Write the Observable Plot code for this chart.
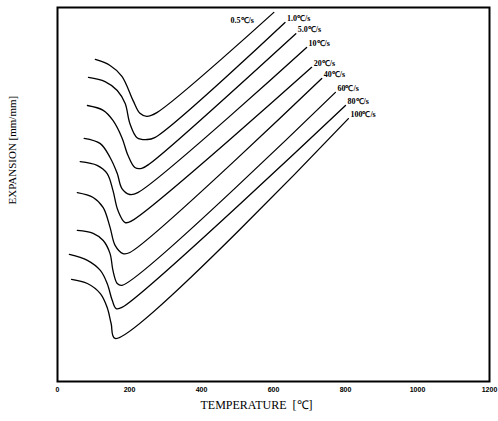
<!DOCTYPE html>
<html><head><meta charset="utf-8">
<script src="https://cdn.jsdelivr.net/npm/d3@7"></script>
<script src="https://cdn.jsdelivr.net/npm/@observablehq/plot@0.6"></script>
<style>body{margin:0;background:#fff}</style>
</head><body><div id="chart"></div>
<script>
// Heating rates (curve labels), top curve to bottom curve
const rateLabels = ["0.5℃/s","1.0℃/s","5.0℃/s","10℃/s","20℃/s","40℃/s","60℃/s","80℃/s","100℃/s"];
// Temperature [℃] and expansion (arbitrary units, offset curves)
const temp_0_5 = [105,146,179,210,229,248,276,601];
const exp_0_5  = [86.1,84.5,81.6,75.1,71.7,70.9,71.9,98.7];
const temp_1   = [86,132,166,188,201,221,248,270,632];
const exp_1    = [81.3,80.2,77.8,74.3,69.0,65.2,64.7,65.2,96.0];
const temp_5   = [83,127,154,179,196,215,234,257,662];
const exp_5    = [73.8,72.5,69.8,65.2,60.4,57.2,57.0,58.3,93.0];
const temp_10  = [74,119,146,166,179,201,223,692];
const exp_10   = [65.0,63.6,59.9,55.6,51.6,50.0,50.5,89.3];
const temp_20  = [63,110,138,154,168,188,207,706];
const exp_20   = [58.8,57.8,55.6,51.1,45.7,42.5,43.0,84.0];
const temp_40  = [55,99,127,146,160,182,201,734];
const exp_40   = [50.5,49.2,46.5,41.2,36.4,34.2,34.5,81.0];
const temp_60  = [55,99,127,146,154,166,179,772];
const exp_60   = [40.4,39.6,37.7,34.2,29.7,26.2,25.7,77.3];
const temp_80  = [33,83,119,138,152,163,179,800];
const exp_80   = [34.0,32.4,29.7,26.2,21.7,19.5,19.8,73.8];
const temp_100 = [39,83,119,138,149,160,808];
const exp_100  = [27.3,26.2,23.5,19.8,15.5,11.5,70.3];
const xTicks = [0,200,400,600,800,1000,1200];
const xTitle = "TEMPERATURE  [℃]";
const yTitle = "EXPANSION [mm/mm]";

const temps = [temp_0_5,temp_1,temp_5,temp_10,temp_20,temp_40,temp_60,temp_80,temp_100];
const exps  = [exp_0_5,exp_1,exp_5,exp_10,exp_20,exp_40,exp_60,exp_80,exp_100];
const rows = [];
const ends = [];
rateLabels.forEach((r,i)=>{
  temps[i].forEach((t,j)=>rows.push({rate:r,t,e:exps[i][j]}));
  const n = temps[i].length-1;
  ends.push({rate:r,t:temps[i][n],e:exps[i][n]});
});

const chart = Plot.plot({
  width: 498, height: 421,
  marginLeft: 57, marginRight: 9, marginTop: 7, marginBottom: 40,
  style: {fontFamily: "Liberation Serif", background: "white", color: "black"},
  x: {domain: [0,1200]},
  y: {domain: [0,100], axis: null},
  marks: [
    Plot.frame({strokeWidth: 2, stroke: "black"}),
    Plot.axisX({ticks: xTicks, tickFormat: d=>String(d), tickSize: 0, tickPadding: 6, fontSize: 7, fontWeight: "bold", fontFamily: "Liberation Sans", fill: "black", label: null}),
    Plot.line(rows, {x: "t", y: "e", z: "rate", curve: "catmull-rom", stroke: "black", strokeWidth: 1.3}),
    Plot.text(ends.filter(d=>d.rate!==rateLabels[0]), {x: "t", y: "e", text: "rate", textAnchor: "start", dx: 2, dy: -4, fontSize: 8, fontWeight: "bold", fill: "black"}),
    Plot.text(ends.filter(d=>d.rate===rateLabels[0]), {x: "t", y: "e", text: "rate", textAnchor: "end", dx: -20, dy: 8, fontSize: 8, fontWeight: "bold", fill: "black"}),
    Plot.text([xTitle], {text: d=>d, frameAnchor: "bottom", dy: 27, dx: -17, fontSize: 12, fill: "black"}),
    Plot.text([yTitle], {text: d=>d, frameAnchor: "left", rotate: -90, dx: -45, dy: 10, fontSize: 11, fill: "black"})
  ]
});
document.getElementById("chart").appendChild(chart);
</script>
</body></html>
